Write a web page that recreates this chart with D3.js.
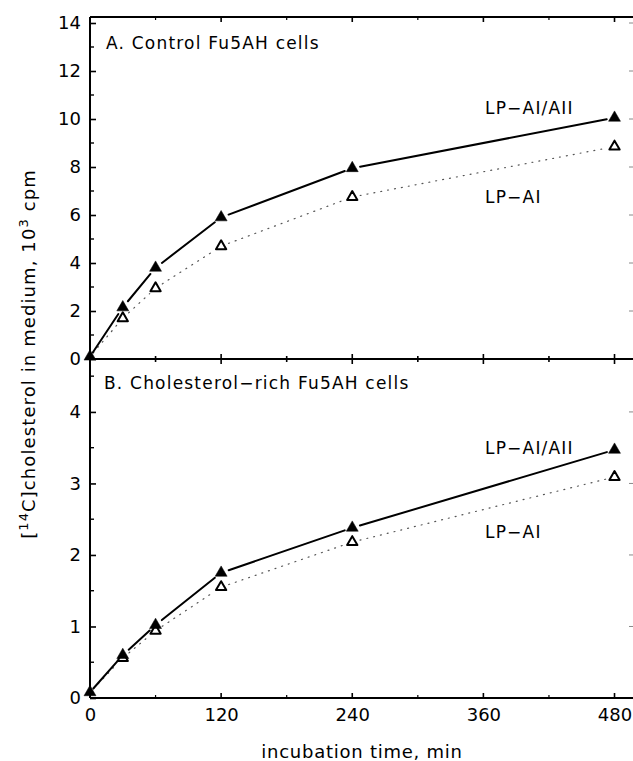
<!DOCTYPE html>
<html>
<head>
<meta charset="utf-8">
<script src="https://cdn.jsdelivr.net/npm/d3@7"></script>
<style>
  body { margin: 0; background: #fff; }
  svg { display: block; }
  .axis path, .axis line { stroke: #000; }
  text { font-family: "DejaVu Sans", sans-serif; fill: #000; }
</style>
</head>
<body>
<svg width="633" height="761"></svg>
<script>
var width = 633, height = 761;

// incubation time, min
var times = [0, 30, 60, 120, 240, 480];
// panel A, control Fu5AH cells (10^3 cpm)
var ctrlAIAII = [0.1, 2.15, 3.8, 5.9, 7.95, 10.05];
var ctrlAI = [0.1, 1.7, 2.95, 4.7, 6.75, 8.85];
// panel B, cholesterol-rich Fu5AH cells (10^3 cpm)
var richAIAII = [0.08, 0.6, 1.02, 1.75, 2.38, 3.47];
var richAI = [0.08, 0.56, 0.94, 1.55, 2.18, 3.09];

var xTicks = [0, 120, 240, 360, 480];
var xMinor = [60, 180, 300, 420];
var topTicks = [0, 2, 4, 6, 8, 10, 12, 14];
var botTicks = [0, 1, 2, 3, 4];

var pLeft = 90, pRight = 632, pTop = 17, pMid = 359, pBottom = 698;

var x = d3.scaleLinear().domain([0, 496]).range([pLeft, pRight]);
var yA = d3.scaleLinear().domain([0, 14.25]).range([pMid, pTop]);
var yB = d3.scaleLinear().domain([0, 4.74]).range([pBottom, pMid]);

const svg = d3.select('svg');

// frame lines
svg.append("line").attr("x1", pLeft).attr("x2", pLeft).attr("y1", pTop).attr("y2", pBottom)
  .attr("stroke", "#000").attr("stroke-width", 2);
[pTop, pMid, pBottom].forEach(function(yy) {
  svg.append("line").attr("x1", pLeft).attr("x2", pRight + 1).attr("y1", yy).attr("y2", yy)
    .attr("stroke", "#000").attr("stroke-width", 2);
});

// x ticks on top, middle and bottom lines
function xTickMarks(yy, up, down, vals, w) {
  svg.append("g").selectAll("line").data(vals).join("line")
    .attr("x1", d => x(d)).attr("x2", d => x(d))
    .attr("y1", yy - up).attr("y2", yy + down)
    .attr("stroke", "#000").attr("stroke-width", w);
}
xTickMarks(pTop, 0, 5, xTicks, 1.6);
xTickMarks(pTop, 0, 3, xMinor, 1.2);
xTickMarks(pMid, 5, 5, xTicks, 1.6);
xTickMarks(pMid, 3, 3, xMinor, 1.6);
xTickMarks(pBottom, 5, 0, xTicks, 1.6);
xTickMarks(pBottom, 3, 0, xMinor, 1.2);

// x tick labels
const xAxis = d3.axisBottom(x).tickValues(xTicks).tickSize(0).tickPadding(10);
svg.append("g").attr("class", "axis")
  .attr("transform", `translate(0,${pBottom})`)
  .call(xAxis)
  .call(g => g.select(".domain").remove())
  .selectAll("text").attr("font-size", 18).attr("font-family", "DejaVu Sans");

// left axes
function yAxisLeft(scale, ticks, minor) {
  const g = svg.append("g").attr("class", "axis")
    .attr("transform", `translate(${pLeft},0)`)
    .call(d3.axisLeft(scale).tickValues(ticks).tickFormat(d3.format("d")).tickSize(-6).tickPadding(9));
  g.select(".domain").remove();
  g.selectAll("text").attr("font-size", 18).attr("font-family", "DejaVu Sans");
  g.selectAll("line").attr("stroke-width", 1.6);
  svg.append("g").selectAll("line").data(minor).join("line")
    .attr("x1", pLeft).attr("x2", pLeft + 4)
    .attr("y1", d => scale(d)).attr("y2", d => scale(d))
    .attr("stroke", "#000").attr("stroke-width", 1.4);
  // faint ticks on the right edge
  svg.append("g").selectAll("line").data(ticks.filter(d => d > 0)).join("line")
    .attr("x1", pRight - 3).attr("x2", pRight + 1)
    .attr("y1", d => scale(d)).attr("y2", d => scale(d))
    .attr("stroke", "#888").attr("stroke-width", 1);
}
yAxisLeft(yA, topTicks, [1, 3, 5, 7, 9, 11, 13]);
yAxisLeft(yB, botTicks, [0.5, 1.5, 2.5, 3.5, 4.5]);

// series lines with small gaps at the markers
function series(vals, scale, dotted) {
  const gap = 8;
  const segs = d3.pairs(vals.map((v, i) => [x(times[i]), scale(v)]));
  svg.append("g").selectAll("line").data(segs).join("line")
    .each(function(s) {
      const dx = s[1][0] - s[0][0], dy = s[1][1] - s[0][1];
      const len = Math.sqrt(dx * dx + dy * dy);
      const ux = dx / len, uy = dy / len;
      const g0 = s[0][0] === x(0) ? 5 : gap;
      d3.select(this)
        .attr("x1", s[0][0] + ux * g0).attr("y1", s[0][1] + uy * g0)
        .attr("x2", s[1][0] - ux * gap).attr("y2", s[1][1] - uy * gap);
    })
    .attr("stroke", dotted ? "#555" : "#000")
    .attr("stroke-width", dotted ? 1.2 : 2)
    .attr("stroke-dasharray", dotted ? "1,6" : null)
    .attr("stroke-linecap", "round");
}

function markers(vals, scale, filled, skipFirst) {
  const tri = d3.symbol().type(d3.symbolTriangle).size(filled ? 62 : 46);
  const pts = vals.map((v, i) => ({t: times[i], v: v})).filter((d, i) => !(skipFirst && i === 0));
  svg.append("g").selectAll("path").data(pts).join("path")
    .attr("d", tri)
    .attr("transform", d => `translate(${x(d.t)},${scale(d.v)})`)
    .attr("fill", filled ? "#000" : "#fff")
    .attr("stroke", "#000")
    .attr("stroke-width", filled ? 0.5 : 2)
    .attr("stroke-linejoin", "round");
}

series(ctrlAI, yA, true);
series(ctrlAIAII, yA, false);
series(richAI, yB, true);
series(richAIAII, yB, false);
// open markers at t=0 lie under the filled ones
markers(ctrlAI, yA, false, true);
markers(richAI, yB, false, true);
markers(ctrlAIAII, yA, true, false);
markers(richAIAII, yB, true, false);

// panel labels
function label(tx, ty, s) {
  svg.append("text").attr("x", tx).attr("y", ty)
    .attr("font-size", 17).attr("letter-spacing", 1.2).text(s);
}
label(106, 49, "A. Control Fu5AH cells");
label(104, 389, "B. Cholesterol\u2212rich Fu5AH cells");
label(485, 114, "LP\u2212AI/AII");
label(485, 203, "LP\u2212AI");
label(485, 454, "LP\u2212AI/AII");
label(485, 538, "LP\u2212AI");

// axis titles
svg.append("text").attr("x", 362).attr("y", 758).attr("text-anchor", "middle")
  .attr("font-size", 18).attr("letter-spacing", 0.75).text("incubation time, min");

const yt = svg.append("text")
  .attr("transform", "translate(35,354) rotate(-90)")
  .attr("text-anchor", "middle").attr("font-size", 18).attr("letter-spacing", 1.1);
yt.append("tspan").text("[");
yt.append("tspan").attr("dy", -7).attr("font-size", 13).text("14");
yt.append("tspan").attr("dy", 7).text("C]cholesterol in medium, 10");
yt.append("tspan").attr("dy", -7).attr("font-size", 13).text("3");
yt.append("tspan").attr("dy", 7).text(" cpm");
</script>
</body>
</html>
